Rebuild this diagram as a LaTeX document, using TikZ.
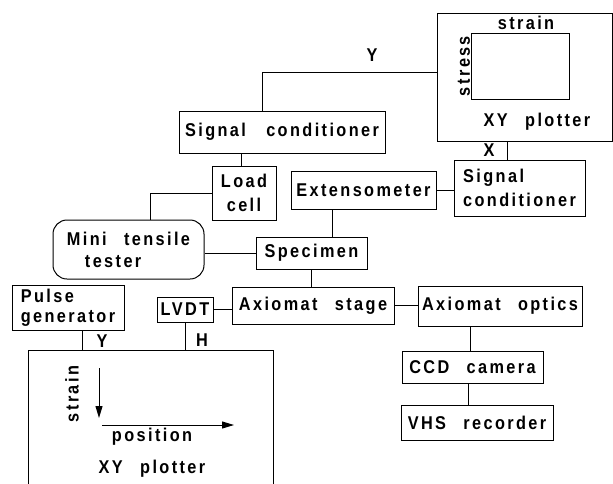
\documentclass[tikz,border=0pt]{standalone}
\usepackage{fontspec}
\setmainfont{Liberation Sans}[LetterSpace=13,WordSpace=2.5,FakeStretch=0.88]
\usetikzlibrary{arrows.meta}
\begin{document}
\begin{tikzpicture}[x=1pt,y=-1pt,
  every node/.style={font=\bfseries\fontsize{18.5}{24}\selectfont, inner sep=0pt},
  box/.style={draw, line width=1pt},
  conn/.style={line width=0.8pt},
  arr/.style={line width=1pt, -{Triangle[length=12pt,width=7pt]}}]
\useasboundingbox (0,0) rectangle (613,483);
% top XY plotter
\node[box, minimum width=175pt, minimum height=128pt] (pt) at (524.5,77) {};
\node[box, minimum width=98pt, minimum height=66pt] (inner) at (520,66) {};
\node (strainT) at (526,23) {strain};
\node[rotate=90] (stressT) at (464,66) {stress};
\node (xyT) at (537,122) {XY plotter};
% boxes
\node[box, minimum width=206pt, minimum height=42pt] (sigL) at (282,132) {Signal\hspace{3pt} conditioner};
\node[box, minimum width=64pt, minimum height=54pt, align=center] (load) at (244,193) {Load\\cell};
\node[box, minimum width=145pt, minimum height=38pt] (ext) at (363.5,190) {Extensometer};
\node[box, minimum width=131pt, minimum height=56pt, align=left] (sigR) at (519.5,188) {Signal\\conditioner};
\node[box, rounded corners=14pt, minimum width=151pt, minimum height=59pt, align=left] (mini) at (128.5,249.5) {Mini tensile\\[-2pt]\hspace*{18pt}tester};
\node[box, minimum width=111pt, minimum height=32pt] (spec) at (311.5,253) {Specimen};
\node[box, minimum width=112pt, minimum height=45pt, align=left] (pulse) at (68,307.5) {Pulse\\[-4pt]generator};
\node[box, minimum width=56pt, minimum height=25pt] (lvdt) at (185,309.5) {LVDT};
\node[box, minimum width=162pt, minimum height=37pt] (stage) at (313,305.5) {Axiomat stage};
\node[box, minimum width=164pt, minimum height=40pt] (optics) at (500,306) {Axiomat optics};
\node[box, minimum width=141pt, minimum height=32pt] (ccd) at (472.5,367) {CCD camera};
\node[box, minimum width=152pt, minimum height=35pt] (vhs) at (477,422.5) {VHS recorder};
% bottom XY plotter (open at bottom edge)
\node[box, minimum width=245pt, minimum height=150pt] (pb) at (150.5,425) {};
\node[rotate=90] (strainB) at (72,394) {strain};
\node (posB) at (152,437) {position};
\node (xyB) at (152,469) {XY plotter};
\coordinate (a1) at (99,368);
\coordinate (a2) at (99,418);
\coordinate (b1) at (102,425);
\coordinate (b2) at (234,425);
\draw[arr] (a1) -- (a2);
\draw[arr] (b1) -- (b2);
% labels
\node (lY) at (372,55) {Y};
\node (lX) at (489,150) {X};
\node (lY2) at (102,341) {Y};
\node (lH) at (202,340) {H};
% connectors
\coordinate (ya) at (262,72);
\draw[conn] (ya |- sigL.north) -- (ya) -- (ya -| pt.west);
\draw[conn] ([xshift=-3pt]load.north) -- ([xshift=-3pt]load.north |- sigL.south);
\draw[conn] (load.west) -| ([xshift=21.5pt]mini.north);
\draw[conn] ([xshift=-31.5pt]ext.south) -- ([xshift=-31.5pt]ext.south |- spec.north);
\draw[conn] (ext.east) -- (ext.east -| sigR.west);
\draw[conn] ([xshift=-12.5pt]sigR.north) -- ([xshift=-12.5pt]sigR.north |- pt.south);
\draw[conn] (spec.west) -- (spec.west -| mini.east);
\draw[conn] (spec.south) -- (spec.south |- stage.north);
\draw[conn] (lvdt.east) -- (lvdt.east -| stage.west);
\draw[conn] (stage.east) -- (stage.east -| optics.west);
\draw[conn] ([xshift=-2.5pt]ccd.north) -- ([xshift=-2.5pt]ccd.north |- optics.south);
\draw[conn] ([xshift=-4.5pt]ccd.south) -- ([xshift=-4.5pt]ccd.south |- vhs.north);
\draw[conn] ([xshift=14pt]pulse.south) -- ([xshift=14pt]pulse.south |- pb.north);
\draw[conn] (lvdt.south) -- (lvdt.south |- pb.north);
\end{tikzpicture}
\end{document}
